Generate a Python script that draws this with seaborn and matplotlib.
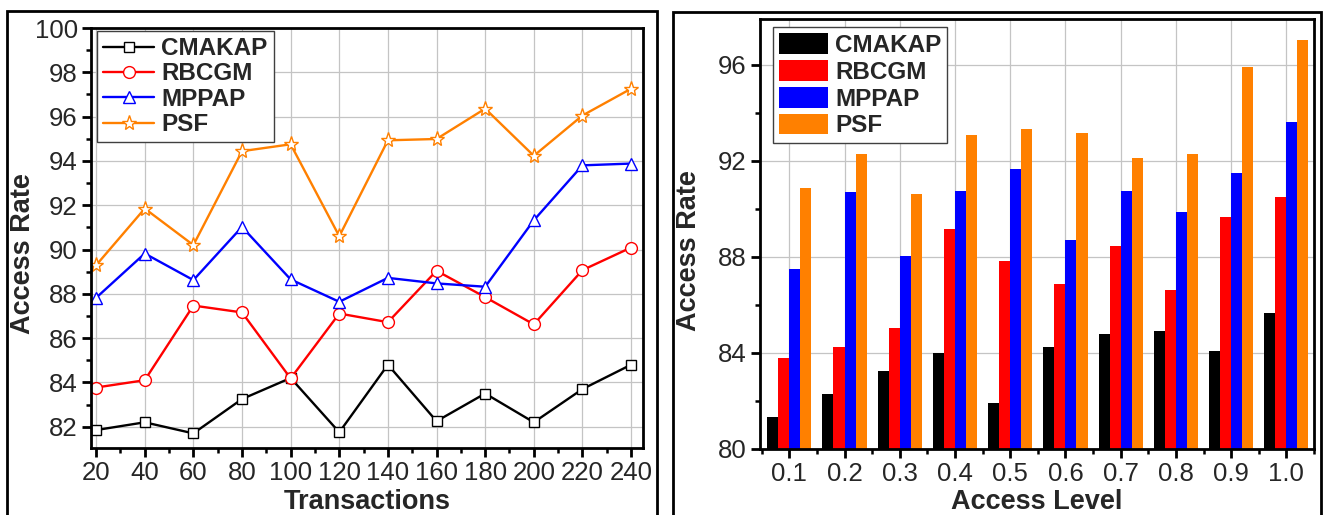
import numpy as np
import pandas as pd
import matplotlib
matplotlib.use("Agg")
import matplotlib.pyplot as plt
from matplotlib.patches import Rectangle
from matplotlib.ticker import MultipleLocator, FixedLocator
import seaborn as sns

# ---- data -------------------------------------------------------------
methods = ["CMAKAP", "RBCGM", "MPPAP", "PSF"]
colors = ["#000000", "#FF0000", "#0000FF", "#FF8000"]
line_markers = ["s", "o", "^", "*"]
marker_sizes = [7.5, 8.5, 8.5, 11]

transactions = [20, 40, 60, 80, 100, 120, 140, 160, 180, 200, 220, 240]
cmakap_tx = [81.85, 82.2, 81.7, 83.25, 84.2, 81.75, 84.8, 82.25, 83.5, 82.2, 83.7, 84.8]
rbcgm_tx = [83.77, 84.1, 87.47, 87.16, 84.18, 87.11, 86.72, 89.04, 87.85, 86.62, 89.07, 90.09]
mppap_tx = [87.82, 89.82, 88.62, 91.02, 88.65, 87.64, 88.72, 88.47, 88.32, 91.32, 93.80, 93.88]
psf_tx = [89.29, 91.85, 90.2, 94.44, 94.75, 90.6, 94.93, 94.99, 96.36, 94.23, 96.05, 97.26]

access_levels = ["0.1", "0.2", "0.3", "0.4", "0.5", "0.6", "0.7", "0.8", "0.9", "1.0"]
cmakap_lvl = [81.33, 82.31, 83.24, 83.98, 81.92, 84.24, 84.77, 84.91, 84.07, 85.67]
rbcgm_lvl = [83.77, 84.25, 85.02, 89.15, 87.84, 86.88, 88.45, 86.60, 89.66, 90.49]
mppap_lvl = [87.51, 90.68, 88.03, 90.72, 91.65, 88.69, 90.73, 89.88, 91.51, 93.62]
psf_lvl = [90.88, 92.27, 90.62, 93.06, 93.31, 93.14, 92.11, 92.29, 95.90, 97.04]

tx_series = [cmakap_tx, rbcgm_tx, mppap_tx, psf_tx]
lvl_series = [cmakap_lvl, rbcgm_lvl, mppap_lvl, psf_lvl]

df_bar = pd.DataFrame({
    "level": access_levels * len(methods),
    "rate": [v for s in lvl_series for v in s],
    "method": [m for m in methods for _ in access_levels],
})

# ---- style ------------------------------------------------------------
sns.set_style("ticks")
plt.rcParams["font.family"] = ["Liberation Sans", "DejaVu Sans"]

TICK_FS = 18.5
LABEL_FS = 19.5
LEGEND_FS = 17.5
GRID_C = "#C4C4C4"

fig = plt.figure(figsize=(13.24, 5.15), dpi=100)
W, H = 1324, 515


def px_axes(l, t, r, b):
    return fig.add_axes([l / W, 1 - b / H, (r - l) / W, (b - t) / H])


ax1 = px_axes(91, 28, 643, 448)
ax2 = px_axes(760, 19, 1314, 449)

# panel frames
for (l, t, r) in [(7, 11, 657), (673, 12, 1321)]:
    fig.add_artist(Rectangle((l / W, -0.05), (r - l) / W, 1 - t / H + 0.05,
                             transform=fig.transFigure, fill=False,
                             edgecolor="black", linewidth=2.0, clip_on=False))

# ---- left: line chart -------------------------------------------------
for name, vals, c, mk, ms in zip(methods, tx_series, colors, line_markers, marker_sizes):
    sns.lineplot(x=transactions, y=vals, ax=ax1, color=c, marker=mk,
                 markersize=ms, markerfacecolor="white", markeredgecolor=c,
                 markeredgewidth=1.0, linewidth=1.7, label=name)

ax1.set_xlim(17.9, 244.9)
ax1.set_ylim(81.04, 100)
ax1.xaxis.set_major_locator(FixedLocator(transactions))
ax1.xaxis.set_minor_locator(MultipleLocator(10))
ax1.yaxis.set_major_locator(MultipleLocator(2))
ax1.yaxis.set_minor_locator(MultipleLocator(1))
ax1.set_xlabel("Transactions", fontsize=LABEL_FS, fontweight="bold")
ax1.set_ylabel("Access Rate", fontsize=LABEL_FS, fontweight="bold")
ax1.xaxis.set_label_coords(0.5, -0.098)
ax1.yaxis.set_label_coords(-0.1, 0.462)

# ---- right: grouped bars ----------------------------------------------
sns.barplot(data=df_bar, x="level", y="rate", hue="method", order=access_levels,
            hue_order=methods, palette=colors, width=0.8, saturation=1,
            linewidth=0, errorbar=None, ax=ax2)

ax2.set_xlim(-0.53, 9.5)
ax2.set_ylim(80, 97.9)
ax2.xaxis.set_minor_locator(FixedLocator(np.arange(-0.5, 9.6, 1.0)))
ax2.yaxis.set_major_locator(MultipleLocator(4))
ax2.yaxis.set_minor_locator(MultipleLocator(2))
ax2.set_xlabel("Access Level", fontsize=LABEL_FS, fontweight="bold")
ax2.set_ylabel("Access Rate", fontsize=LABEL_FS, fontweight="bold")
ax2.xaxis.set_label_coords(0.5, -0.093)
ax2.yaxis.set_label_coords(-0.105, 0.462)

# ---- shared axis styling ----------------------------------------------
for ax in (ax1, ax2):
    ax.set_axisbelow(True)
    ax.grid(True, which="major", color=GRID_C, linewidth=0.9)
    for sp in ax.spines.values():
        sp.set_visible(True)
        sp.set_linewidth(2.0)
        sp.set_color("black")
    ax.tick_params(which="both", direction="out", top=False, right=False,
                   color="black")
    ax.tick_params(which="major", length=6.5, width=2.0, labelsize=TICK_FS, pad=3)
    ax.tick_params(which="minor", length=3.5, width=1.8)

leg1 = ax1.legend(loc="upper left", bbox_to_anchor=(0.011, 0.993), borderaxespad=0,
                  frameon=True, fancybox=False, framealpha=1, edgecolor="#404040",
                  prop={"weight": "bold", "size": LEGEND_FS}, handlelength=2.1,
                  handletextpad=0.3, labelspacing=0.1, borderpad=0.25, numpoints=1)
leg1.get_frame().set_linewidth(1.0)

handles, labels = ax2.get_legend_handles_labels()
leg2 = ax2.legend(handles, labels, loc="upper left", bbox_to_anchor=(0.0235, 0.981),
                  borderaxespad=0, frameon=True, fancybox=False, framealpha=1,
                  edgecolor="#404040", prop={"weight": "bold", "size": LEGEND_FS},
                  handlelength=2.0, handleheight=0.95, handletextpad=0.3,
                  labelspacing=0.12, borderpad=0.25)
leg2.get_frame().set_linewidth(1.0)

fig.savefig("out.png", dpi=100, facecolor="white")
